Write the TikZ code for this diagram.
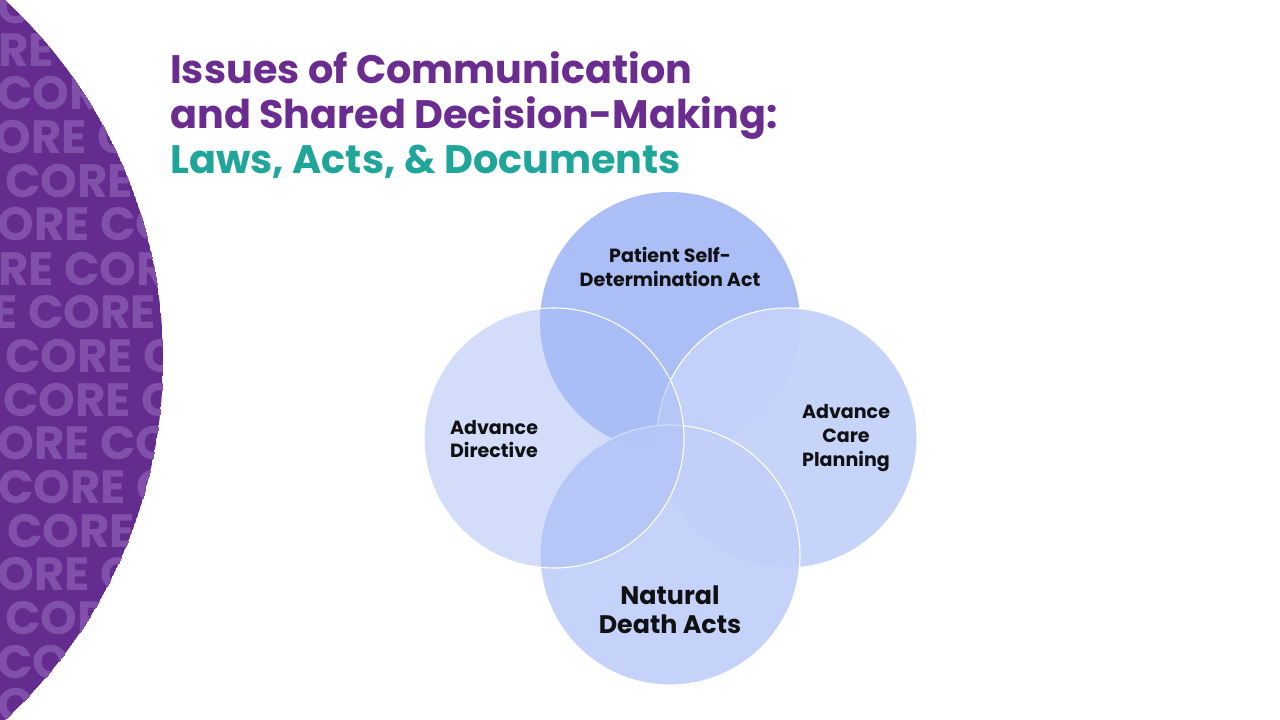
\documentclass[tikz,border=0pt]{standalone}
\usepackage{fontspec}
\setmainfont{Poppins}
\definecolor{corepurple}{RGB}{101,44,144}
\definecolor{coretextc}{RGB}{128,80,171}
\definecolor{titlepurple}{RGB}{107,44,143}
\definecolor{titleteal}{RGB}{32,165,154}
\definecolor{ctop}{RGB}{171,190,246}
\definecolor{cright}{RGB}{197,210,250}
\definecolor{cleft}{RGB}{169,189,247}
\definecolor{cbottom}{RGB}{194,208,249}
\definecolor{lbltext}{RGB}{17,17,20}
\tikzset{
  coretext/.style={anchor=base west, inner sep=0pt, text=coretextc, font=\fontsize{35}{35}\selectfont\bfseries},
  titleline/.style={anchor=base west, inner sep=0pt, font=\fontsize{29.8}{32}\selectfont\bfseries},
  venn/.style={circle, minimum size=195pt, inner sep=0pt},
  vennedge/.style={draw=white, line width=0.8pt},
  lbl/.style={align=center, inner sep=0pt, text=lbltext, font=\fontsize{14.3}{17.8}\selectfont\bfseries},
  biglbl/.style={align=center, inner sep=0pt, text=lbltext, font=\fontsize{19}{22}\selectfont\bfseries}
}
\begin{document}
\begin{tikzpicture}[x=0.75pt,y=-0.75pt]
\useasboundingbox (0,0) rectangle (1280,720);
\fill[white] (0,0) rectangle (1280,720);
% left decorative band
\begin{scope}
  \clip (-326,360) circle[radius=366.75pt];
  \fill[corepurple] (-326,360) circle[radius=366.75pt];
  \foreach \xo/\yb/\txt in {-38/24/CORE CO, -74/67/CORE COR, -3/110/CORE C, -41/154/CORE CO, 5/198/CORE C, -38/241/CORE CO, -74/285/CORE COR, -110/328/CORE CORE, 5/372/CORE C, 3/416/CORE C, -38/459/CORE CO, -2/503/CORE C, 7/547/CORE C, -38/590/CORE CO, 5/634/CORE C, -3/678/CORE C, -38/721/CORE CO}
    \node[coretext] at (\xo,\yb) {\txt};
\end{scope}
% title
\node[titleline, text=titlepurple] (t1) at (170,84) {Issues of Communication};
\node[titleline, text=titlepurple] (t2) at (170,129) {and Shared Decision-Making:};
\node[titleline, text=titleteal] (t3) at (170,174) {Laws, Acts, \& Documents};
% venn circles
\node[venn, fill=ctop] (top) at (670,322) {};
\node[venn, fill=cright, fill opacity=0.95, vennedge] (right) at (787,438) {};
\node[venn, fill=cbottom, fill opacity=0.95, vennedge] (bottom) at (670,555) {};
\node[venn, fill=cleft, fill opacity=0.5, vennedge] (left) at (554,438) {};
% labels
\node[lbl] (ltop) at (670,267) {Patient Self-\\Determination Act};
\node[lbl] (lleft) at (494,439) {Advance\\Directive};
\node[lbl] (lright) at (846,438) {Advance\\Care\\Planning};
\node[biglbl] (lbottom) at (670,610) {Natural\\Death Acts};
\end{tikzpicture}
\end{document}
